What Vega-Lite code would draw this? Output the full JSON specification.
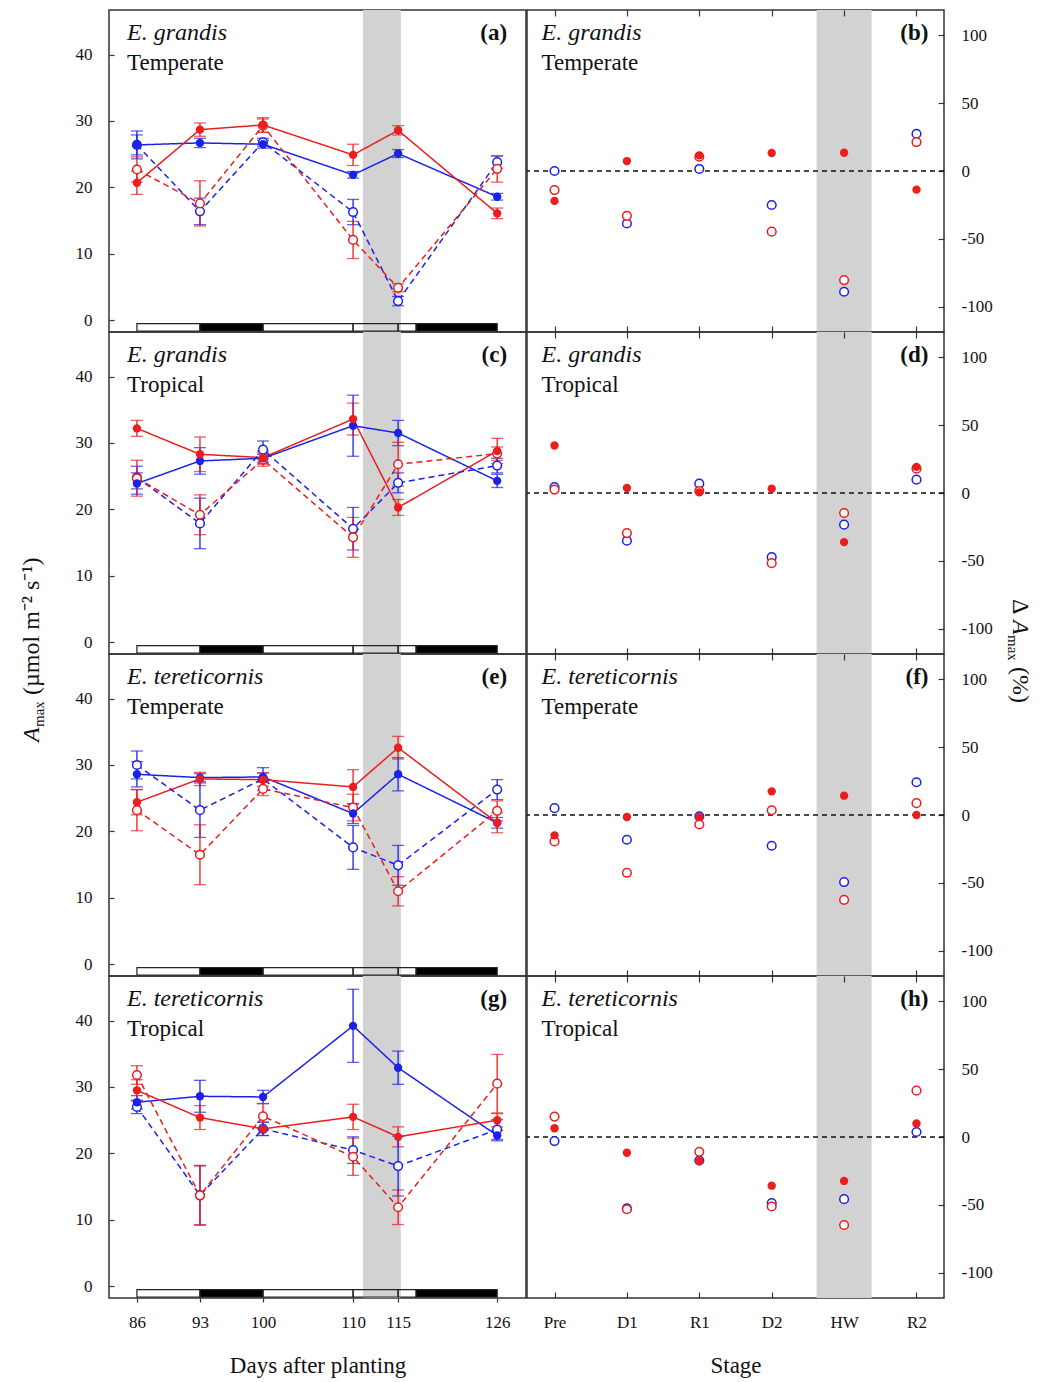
{
"$schema": "https://vega.github.io/schema/vega-lite/v6.json",
"background": "white",
"padding": {"left": 0, "top": 8, "right": 0, "bottom": 0},
"datasets": {
"amax": [
{"sp":"E. grandis","prov":"Temperate","temp":"Ambient","water":"Watered","day":86,"amax":26.4,"se":2.1},
{"sp":"E. grandis","prov":"Temperate","temp":"Ambient","water":"Watered","day":93,"amax":26.7,"se":0.7},
{"sp":"E. grandis","prov":"Temperate","temp":"Ambient","water":"Watered","day":100,"amax":26.5,"se":0.6},
{"sp":"E. grandis","prov":"Temperate","temp":"Ambient","water":"Watered","day":110,"amax":21.9,"se":0.5},
{"sp":"E. grandis","prov":"Temperate","temp":"Ambient","water":"Watered","day":115,"amax":25.1,"se":0.6},
{"sp":"E. grandis","prov":"Temperate","temp":"Ambient","water":"Watered","day":126,"amax":18.6,"se":0.5},
{"sp":"E. grandis","prov":"Temperate","temp":"Warmed","water":"Watered","day":86,"amax":20.7,"se":1.75},
{"sp":"E. grandis","prov":"Temperate","temp":"Warmed","water":"Watered","day":93,"amax":28.7,"se":1.0},
{"sp":"E. grandis","prov":"Temperate","temp":"Warmed","water":"Watered","day":100,"amax":29.4,"se":1.1},
{"sp":"E. grandis","prov":"Temperate","temp":"Warmed","water":"Watered","day":110,"amax":24.9,"se":1.6},
{"sp":"E. grandis","prov":"Temperate","temp":"Warmed","water":"Watered","day":115,"amax":28.6,"se":0.7},
{"sp":"E. grandis","prov":"Temperate","temp":"Warmed","water":"Watered","day":126,"amax":16.1,"se":0.8},
{"sp":"E. grandis","prov":"Temperate","temp":"Ambient","water":"Drought","day":86,"amax":26.4,"se":1.5},
{"sp":"E. grandis","prov":"Temperate","temp":"Ambient","water":"Drought","day":93,"amax":16.4,"se":2.0},
{"sp":"E. grandis","prov":"Temperate","temp":"Ambient","water":"Drought","day":100,"amax":26.8,"se":0.6},
{"sp":"E. grandis","prov":"Temperate","temp":"Ambient","water":"Drought","day":110,"amax":16.3,"se":1.9},
{"sp":"E. grandis","prov":"Temperate","temp":"Ambient","water":"Drought","day":115,"amax":2.9,"se":0.7},
{"sp":"E. grandis","prov":"Temperate","temp":"Ambient","water":"Drought","day":126,"amax":23.8,"se":0.9},
{"sp":"E. grandis","prov":"Temperate","temp":"Warmed","water":"Drought","day":86,"amax":22.7,"se":1.9},
{"sp":"E. grandis","prov":"Temperate","temp":"Warmed","water":"Drought","day":93,"amax":17.6,"se":3.4},
{"sp":"E. grandis","prov":"Temperate","temp":"Warmed","water":"Drought","day":100,"amax":29.3,"se":1.0},
{"sp":"E. grandis","prov":"Temperate","temp":"Warmed","water":"Drought","day":110,"amax":12.1,"se":2.8},
{"sp":"E. grandis","prov":"Temperate","temp":"Warmed","water":"Drought","day":115,"amax":4.9,"se":0.6},
{"sp":"E. grandis","prov":"Temperate","temp":"Warmed","water":"Drought","day":126,"amax":22.8,"se":2.0},
{"sp":"E. grandis","prov":"Tropical","temp":"Ambient","water":"Watered","day":86,"amax":23.9,"se":1.6},
{"sp":"E. grandis","prov":"Tropical","temp":"Ambient","water":"Watered","day":93,"amax":27.3,"se":2.0},
{"sp":"E. grandis","prov":"Tropical","temp":"Ambient","water":"Watered","day":100,"amax":27.7,"se":0.6},
{"sp":"E. grandis","prov":"Tropical","temp":"Ambient","water":"Watered","day":110,"amax":32.6,"se":4.6},
{"sp":"E. grandis","prov":"Tropical","temp":"Ambient","water":"Watered","day":115,"amax":31.5,"se":1.9},
{"sp":"E. grandis","prov":"Tropical","temp":"Ambient","water":"Watered","day":126,"amax":24.3,"se":1.0},
{"sp":"E. grandis","prov":"Tropical","temp":"Warmed","water":"Watered","day":86,"amax":32.2,"se":1.2},
{"sp":"E. grandis","prov":"Tropical","temp":"Warmed","water":"Watered","day":93,"amax":28.3,"se":2.6},
{"sp":"E. grandis","prov":"Tropical","temp":"Warmed","water":"Watered","day":100,"amax":27.8,"se":1.0},
{"sp":"E. grandis","prov":"Tropical","temp":"Warmed","water":"Watered","day":110,"amax":33.6,"se":2.4},
{"sp":"E. grandis","prov":"Tropical","temp":"Warmed","water":"Watered","day":115,"amax":20.3,"se":1.2},
{"sp":"E. grandis","prov":"Tropical","temp":"Warmed","water":"Watered","day":126,"amax":28.8,"se":1.9},
{"sp":"E. grandis","prov":"Tropical","temp":"Ambient","water":"Drought","day":86,"amax":24.8,"se":1.7},
{"sp":"E. grandis","prov":"Tropical","temp":"Ambient","water":"Drought","day":93,"amax":17.9,"se":3.8},
{"sp":"E. grandis","prov":"Tropical","temp":"Ambient","water":"Drought","day":100,"amax":29.0,"se":1.3},
{"sp":"E. grandis","prov":"Tropical","temp":"Ambient","water":"Drought","day":110,"amax":17.1,"se":3.2},
{"sp":"E. grandis","prov":"Tropical","temp":"Ambient","water":"Drought","day":115,"amax":24.0,"se":1.5},
{"sp":"E. grandis","prov":"Tropical","temp":"Ambient","water":"Drought","day":126,"amax":26.6,"se":1.1},
{"sp":"E. grandis","prov":"Tropical","temp":"Warmed","water":"Drought","day":86,"amax":24.7,"se":2.7},
{"sp":"E. grandis","prov":"Tropical","temp":"Warmed","water":"Drought","day":93,"amax":19.2,"se":3.0},
{"sp":"E. grandis","prov":"Tropical","temp":"Warmed","water":"Drought","day":100,"amax":27.5,"se":1.0},
{"sp":"E. grandis","prov":"Tropical","temp":"Warmed","water":"Drought","day":110,"amax":15.8,"se":3.0},
{"sp":"E. grandis","prov":"Tropical","temp":"Warmed","water":"Drought","day":115,"amax":26.8,"se":3.3},
{"sp":"E. grandis","prov":"Tropical","temp":"Warmed","water":"Drought","day":126,"amax":28.4,"se":1.0},
{"sp":"E. tereticornis","prov":"Temperate","temp":"Ambient","water":"Watered","day":86,"amax":28.6,"se":1.9},
{"sp":"E. tereticornis","prov":"Temperate","temp":"Ambient","water":"Watered","day":93,"amax":28.1,"se":0.6},
{"sp":"E. tereticornis","prov":"Temperate","temp":"Ambient","water":"Watered","day":100,"amax":28.2,"se":0.6},
{"sp":"E. tereticornis","prov":"Temperate","temp":"Ambient","water":"Watered","day":110,"amax":22.7,"se":1.5},
{"sp":"E. tereticornis","prov":"Temperate","temp":"Ambient","water":"Watered","day":115,"amax":28.6,"se":2.5},
{"sp":"E. tereticornis","prov":"Temperate","temp":"Ambient","water":"Watered","day":126,"amax":21.3,"se":0.8},
{"sp":"E. tereticornis","prov":"Temperate","temp":"Warmed","water":"Watered","day":86,"amax":24.4,"se":1.9},
{"sp":"E. tereticornis","prov":"Temperate","temp":"Warmed","water":"Watered","day":93,"amax":27.9,"se":1.0},
{"sp":"E. tereticornis","prov":"Temperate","temp":"Warmed","water":"Watered","day":100,"amax":27.8,"se":1.0},
{"sp":"E. tereticornis","prov":"Temperate","temp":"Warmed","water":"Watered","day":110,"amax":26.7,"se":2.6},
{"sp":"E. tereticornis","prov":"Temperate","temp":"Warmed","water":"Watered","day":115,"amax":32.6,"se":1.7},
{"sp":"E. tereticornis","prov":"Temperate","temp":"Warmed","water":"Watered","day":126,"amax":21.3,"se":1.5},
{"sp":"E. tereticornis","prov":"Temperate","temp":"Ambient","water":"Drought","day":86,"amax":30.0,"se":2.1},
{"sp":"E. tereticornis","prov":"Temperate","temp":"Ambient","water":"Drought","day":93,"amax":23.2,"se":4.1},
{"sp":"E. tereticornis","prov":"Temperate","temp":"Ambient","water":"Drought","day":100,"amax":27.9,"se":1.7},
{"sp":"E. tereticornis","prov":"Temperate","temp":"Ambient","water":"Drought","day":110,"amax":17.6,"se":3.3},
{"sp":"E. tereticornis","prov":"Temperate","temp":"Ambient","water":"Drought","day":115,"amax":14.9,"se":3.0},
{"sp":"E. tereticornis","prov":"Temperate","temp":"Ambient","water":"Drought","day":126,"amax":26.3,"se":1.5},
{"sp":"E. tereticornis","prov":"Temperate","temp":"Warmed","water":"Drought","day":86,"amax":23.2,"se":3.1},
{"sp":"E. tereticornis","prov":"Temperate","temp":"Warmed","water":"Drought","day":93,"amax":16.5,"se":4.5},
{"sp":"E. tereticornis","prov":"Temperate","temp":"Warmed","water":"Drought","day":100,"amax":26.4,"se":1.0},
{"sp":"E. tereticornis","prov":"Temperate","temp":"Warmed","water":"Drought","day":110,"amax":23.6,"se":2.0},
{"sp":"E. tereticornis","prov":"Temperate","temp":"Warmed","water":"Drought","day":115,"amax":11.0,"se":2.2},
{"sp":"E. tereticornis","prov":"Temperate","temp":"Warmed","water":"Drought","day":126,"amax":23.1,"se":1.5},
{"sp":"E. tereticornis","prov":"Tropical","temp":"Ambient","water":"Watered","day":86,"amax":27.7,"se":1.0},
{"sp":"E. tereticornis","prov":"Tropical","temp":"Ambient","water":"Watered","day":93,"amax":28.6,"se":2.4},
{"sp":"E. tereticornis","prov":"Tropical","temp":"Ambient","water":"Watered","day":100,"amax":28.5,"se":1.0},
{"sp":"E. tereticornis","prov":"Tropical","temp":"Ambient","water":"Watered","day":110,"amax":39.2,"se":5.5},
{"sp":"E. tereticornis","prov":"Tropical","temp":"Ambient","water":"Watered","day":115,"amax":32.9,"se":2.5},
{"sp":"E. tereticornis","prov":"Tropical","temp":"Ambient","water":"Watered","day":126,"amax":22.7,"se":0.8},
{"sp":"E. tereticornis","prov":"Tropical","temp":"Warmed","water":"Watered","day":86,"amax":29.5,"se":1.6},
{"sp":"E. tereticornis","prov":"Tropical","temp":"Warmed","water":"Watered","day":93,"amax":25.4,"se":1.8},
{"sp":"E. tereticornis","prov":"Tropical","temp":"Warmed","water":"Watered","day":100,"amax":23.7,"se":1.0},
{"sp":"E. tereticornis","prov":"Tropical","temp":"Warmed","water":"Watered","day":110,"amax":25.5,"se":1.9},
{"sp":"E. tereticornis","prov":"Tropical","temp":"Warmed","water":"Watered","day":115,"amax":22.5,"se":1.5},
{"sp":"E. tereticornis","prov":"Tropical","temp":"Warmed","water":"Watered","day":126,"amax":25.0,"se":1.0},
{"sp":"E. tereticornis","prov":"Tropical","temp":"Ambient","water":"Drought","day":86,"amax":27.0,"se":1.0},
{"sp":"E. tereticornis","prov":"Tropical","temp":"Ambient","water":"Drought","day":93,"amax":13.7,"se":4.5},
{"sp":"E. tereticornis","prov":"Tropical","temp":"Ambient","water":"Drought","day":100,"amax":23.7,"se":1.0},
{"sp":"E. tereticornis","prov":"Tropical","temp":"Ambient","water":"Drought","day":110,"amax":20.5,"se":2.0},
{"sp":"E. tereticornis","prov":"Tropical","temp":"Ambient","water":"Drought","day":115,"amax":18.1,"se":4.5},
{"sp":"E. tereticornis","prov":"Tropical","temp":"Ambient","water":"Drought","day":126,"amax":23.6,"se":1.5},
{"sp":"E. tereticornis","prov":"Tropical","temp":"Warmed","water":"Drought","day":86,"amax":31.8,"se":1.4},
{"sp":"E. tereticornis","prov":"Tropical","temp":"Warmed","water":"Drought","day":93,"amax":13.7,"se":4.4},
{"sp":"E. tereticornis","prov":"Tropical","temp":"Warmed","water":"Drought","day":100,"amax":25.6,"se":1.9},
{"sp":"E. tereticornis","prov":"Tropical","temp":"Warmed","water":"Drought","day":110,"amax":19.5,"se":2.8},
{"sp":"E. tereticornis","prov":"Tropical","temp":"Warmed","water":"Drought","day":115,"amax":11.9,"se":2.6},
{"sp":"E. tereticornis","prov":"Tropical","temp":"Warmed","water":"Drought","day":126,"amax":30.5,"se":4.4}
],
"delta": [
{"sp":"E. grandis","prov":"Temperate","temp":"Warmed","water":"Watered","stage":"Pre","delta":-22},
{"sp":"E. grandis","prov":"Temperate","temp":"Warmed","water":"Watered","stage":"D1","delta":7.3},
{"sp":"E. grandis","prov":"Temperate","temp":"Warmed","water":"Watered","stage":"R1","delta":11.5},
{"sp":"E. grandis","prov":"Temperate","temp":"Warmed","water":"Watered","stage":"D2","delta":13.2},
{"sp":"E. grandis","prov":"Temperate","temp":"Warmed","water":"Watered","stage":"HW","delta":13.4},
{"sp":"E. grandis","prov":"Temperate","temp":"Warmed","water":"Watered","stage":"R2","delta":-13.7},
{"sp":"E. grandis","prov":"Temperate","temp":"Ambient","water":"Drought","stage":"Pre","delta":0},
{"sp":"E. grandis","prov":"Temperate","temp":"Ambient","water":"Drought","stage":"D1","delta":-38.6},
{"sp":"E. grandis","prov":"Temperate","temp":"Ambient","water":"Drought","stage":"R1","delta":1.5},
{"sp":"E. grandis","prov":"Temperate","temp":"Ambient","water":"Drought","stage":"D2","delta":-25},
{"sp":"E. grandis","prov":"Temperate","temp":"Ambient","water":"Drought","stage":"HW","delta":-88.8},
{"sp":"E. grandis","prov":"Temperate","temp":"Ambient","water":"Drought","stage":"R2","delta":27.4},
{"sp":"E. grandis","prov":"Temperate","temp":"Warmed","water":"Drought","stage":"Pre","delta":-14},
{"sp":"E. grandis","prov":"Temperate","temp":"Warmed","water":"Drought","stage":"D1","delta":-33},
{"sp":"E. grandis","prov":"Temperate","temp":"Warmed","water":"Drought","stage":"R1","delta":10.5},
{"sp":"E. grandis","prov":"Temperate","temp":"Warmed","water":"Drought","stage":"D2","delta":-44.6},
{"sp":"E. grandis","prov":"Temperate","temp":"Warmed","water":"Drought","stage":"HW","delta":-80.2},
{"sp":"E. grandis","prov":"Temperate","temp":"Warmed","water":"Drought","stage":"R2","delta":21.3},
{"sp":"E. grandis","prov":"Tropical","temp":"Warmed","water":"Watered","stage":"Pre","delta":34.9},
{"sp":"E. grandis","prov":"Tropical","temp":"Warmed","water":"Watered","stage":"D1","delta":3.7},
{"sp":"E. grandis","prov":"Tropical","temp":"Warmed","water":"Watered","stage":"R1","delta":0.5},
{"sp":"E. grandis","prov":"Tropical","temp":"Warmed","water":"Watered","stage":"D2","delta":3.2},
{"sp":"E. grandis","prov":"Tropical","temp":"Warmed","water":"Watered","stage":"HW","delta":-36.1},
{"sp":"E. grandis","prov":"Tropical","temp":"Warmed","water":"Watered","stage":"R2","delta":19.2},
{"sp":"E. grandis","prov":"Tropical","temp":"Ambient","water":"Drought","stage":"Pre","delta":4.4},
{"sp":"E. grandis","prov":"Tropical","temp":"Ambient","water":"Drought","stage":"D1","delta":-35.1},
{"sp":"E. grandis","prov":"Tropical","temp":"Ambient","water":"Drought","stage":"R1","delta":6.9},
{"sp":"E. grandis","prov":"Tropical","temp":"Ambient","water":"Drought","stage":"D2","delta":-47.2},
{"sp":"E. grandis","prov":"Tropical","temp":"Ambient","water":"Drought","stage":"HW","delta":-23.3},
{"sp":"E. grandis","prov":"Tropical","temp":"Ambient","water":"Drought","stage":"R2","delta":9.8},
{"sp":"E. grandis","prov":"Tropical","temp":"Warmed","water":"Drought","stage":"Pre","delta":2.5},
{"sp":"E. grandis","prov":"Tropical","temp":"Warmed","water":"Drought","stage":"D1","delta":-29.5},
{"sp":"E. grandis","prov":"Tropical","temp":"Warmed","water":"Drought","stage":"R1","delta":1.5},
{"sp":"E. grandis","prov":"Tropical","temp":"Warmed","water":"Drought","stage":"D2","delta":-51.6},
{"sp":"E. grandis","prov":"Tropical","temp":"Warmed","water":"Drought","stage":"HW","delta":-14.7},
{"sp":"E. grandis","prov":"Tropical","temp":"Warmed","water":"Drought","stage":"R2","delta":17.9},
{"sp":"E. tereticornis","prov":"Temperate","temp":"Warmed","water":"Watered","stage":"Pre","delta":-15},
{"sp":"E. tereticornis","prov":"Temperate","temp":"Warmed","water":"Watered","stage":"D1","delta":-1.5},
{"sp":"E. tereticornis","prov":"Temperate","temp":"Warmed","water":"Watered","stage":"R1","delta":-1.5},
{"sp":"E. tereticornis","prov":"Temperate","temp":"Warmed","water":"Watered","stage":"D2","delta":17.4},
{"sp":"E. tereticornis","prov":"Temperate","temp":"Warmed","water":"Watered","stage":"HW","delta":14.2},
{"sp":"E. tereticornis","prov":"Temperate","temp":"Warmed","water":"Watered","stage":"R2","delta":0},
{"sp":"E. tereticornis","prov":"Temperate","temp":"Ambient","water":"Drought","stage":"Pre","delta":5},
{"sp":"E. tereticornis","prov":"Temperate","temp":"Ambient","water":"Drought","stage":"D1","delta":-18.2},
{"sp":"E. tereticornis","prov":"Temperate","temp":"Ambient","water":"Drought","stage":"R1","delta":-1},
{"sp":"E. tereticornis","prov":"Temperate","temp":"Ambient","water":"Drought","stage":"D2","delta":-22.6},
{"sp":"E. tereticornis","prov":"Temperate","temp":"Ambient","water":"Drought","stage":"HW","delta":-49.3},
{"sp":"E. tereticornis","prov":"Temperate","temp":"Ambient","water":"Drought","stage":"R2","delta":24.1},
{"sp":"E. tereticornis","prov":"Temperate","temp":"Warmed","water":"Drought","stage":"Pre","delta":-19.4},
{"sp":"E. tereticornis","prov":"Temperate","temp":"Warmed","water":"Drought","stage":"D1","delta":-42.5},
{"sp":"E. tereticornis","prov":"Temperate","temp":"Warmed","water":"Drought","stage":"R1","delta":-7},
{"sp":"E. tereticornis","prov":"Temperate","temp":"Warmed","water":"Drought","stage":"D2","delta":3.5},
{"sp":"E. tereticornis","prov":"Temperate","temp":"Warmed","water":"Drought","stage":"HW","delta":-62.4},
{"sp":"E. tereticornis","prov":"Temperate","temp":"Warmed","water":"Drought","stage":"R2","delta":8.7},
{"sp":"E. tereticornis","prov":"Tropical","temp":"Warmed","water":"Watered","stage":"Pre","delta":6.4},
{"sp":"E. tereticornis","prov":"Tropical","temp":"Warmed","water":"Watered","stage":"D1","delta":-11.6},
{"sp":"E. tereticornis","prov":"Tropical","temp":"Warmed","water":"Watered","stage":"R1","delta":-17.8},
{"sp":"E. tereticornis","prov":"Tropical","temp":"Warmed","water":"Watered","stage":"D2","delta":-35.8},
{"sp":"E. tereticornis","prov":"Tropical","temp":"Warmed","water":"Watered","stage":"HW","delta":-32.3},
{"sp":"E. tereticornis","prov":"Tropical","temp":"Warmed","water":"Watered","stage":"R2","delta":9.9},
{"sp":"E. tereticornis","prov":"Tropical","temp":"Ambient","water":"Drought","stage":"Pre","delta":-3},
{"sp":"E. tereticornis","prov":"Tropical","temp":"Ambient","water":"Drought","stage":"D1","delta":-52.5},
{"sp":"E. tereticornis","prov":"Tropical","temp":"Ambient","water":"Drought","stage":"R1","delta":-17.3},
{"sp":"E. tereticornis","prov":"Tropical","temp":"Ambient","water":"Drought","stage":"D2","delta":-48.6},
{"sp":"E. tereticornis","prov":"Tropical","temp":"Ambient","water":"Drought","stage":"HW","delta":-45.7},
{"sp":"E. tereticornis","prov":"Tropical","temp":"Ambient","water":"Drought","stage":"R2","delta":3.7},
{"sp":"E. tereticornis","prov":"Tropical","temp":"Warmed","water":"Drought","stage":"Pre","delta":15},
{"sp":"E. tereticornis","prov":"Tropical","temp":"Warmed","water":"Drought","stage":"D1","delta":-53.1},
{"sp":"E. tereticornis","prov":"Tropical","temp":"Warmed","water":"Drought","stage":"R1","delta":-10.9},
{"sp":"E. tereticornis","prov":"Tropical","temp":"Warmed","water":"Drought","stage":"D2","delta":-51.1},
{"sp":"E. tereticornis","prov":"Tropical","temp":"Warmed","water":"Drought","stage":"HW","delta":-64.7},
{"sp":"E. tereticornis","prov":"Tropical","temp":"Warmed","water":"Drought","stage":"R2","delta":34.1}
],
"labels": [
{"panel":"a","sp":"E. grandis","prov":"Temperate","letter":"(a)"},
{"panel":"b","sp":"E. grandis","prov":"Temperate","letter":"(b)"},
{"panel":"c","sp":"E. grandis","prov":"Tropical","letter":"(c)"},
{"panel":"d","sp":"E. grandis","prov":"Tropical","letter":"(d)"},
{"panel":"e","sp":"E. tereticornis","prov":"Temperate","letter":"(e)"},
{"panel":"f","sp":"E. tereticornis","prov":"Temperate","letter":"(f)"},
{"panel":"g","sp":"E. tereticornis","prov":"Tropical","letter":"(g)"},
{"panel":"h","sp":"E. tereticornis","prov":"Tropical","letter":"(h)"}
],
"phases": [
{"start":86,"end":93,"period":"watered"},
{"start":93,"end":100,"period":"drought"},
{"start":100,"end":110,"period":"watered"},
{"start":110,"end":115,"period":"watered"},
{"start":115,"end":117,"period":"watered"},
{"start":117,"end":126,"period":"drought"}
],
"hw": [{"start":111.1,"end":115.3}],
"hwStage": [{"stage":"HW"}],
"zero": [{"ref":0}],
"ytitle": [{"a":"A","sub":"max","rest":"(µmol m⁻² s⁻¹)","delta":"Δ","pct":"(%)"}]
},
"hconcat": [
{"hconcat": [
{"width":64,"height":1282,"view":{"stroke":null},"data":{"name":"ytitle"},
"layer":[
{"mark":{"type":"text","angle":270,"align":"left","baseline":"middle","fontSize":24,"fontStyle":"italic","dx":-91,"color":"#111"},"encoding":{"text":{"field":"a"}}},
{"mark":{"type":"text","angle":270,"align":"left","baseline":"middle","fontSize":15,"dx":-76,"dy":7,"color":"#111"},"encoding":{"text":{"field":"sub"}}},
{"mark":{"type":"text","angle":270,"align":"left","baseline":"middle","fontSize":24,"dx":-44,"color":"#111"},"encoding":{"text":{"field":"rest"}}}
]},
{"vconcat":[
{"width":417,"height":322,"resolve":{"axis":{"x":"independent","y":"independent"}},"layer":[
{"data":{"name":"hw"},"mark":{"type":"rect","color":"#d2d2d2"},"encoding":{"x":{"field":"start","type":"quantitative","scale":{"domain":[82.9,129.2],"nice":false,"zero":false},"axis":null},"x2":{"field":"end"}}},
{"data":{"name":"phases"},"mark":{"type":"rect","stroke":"#222","strokeWidth":1.2},"encoding":{"x":{"field":"start","type":"quantitative","axis":null},"x2":{"field":"end"},"y":{"datum":-0.5,"type":"quantitative","scale":{"domain":[-1.75,46.7],"nice":false,"zero":false},"axis":null},"y2":{"datum":-1.6},"fill":{"field":"period","type":"nominal","scale":{"domain":["watered","drought"],"range":["transparent","#000000"]},"legend":null}}},
{"data":{"name":"amax"},"transform":[{"filter":"datum.sp==='E. grandis' && datum.prov==='Temperate'"}],"mark":{"type":"line","strokeWidth":1.5},"encoding":{"x":{"field":"day","type":"quantitative","axis":null},"y":{"field":"amax","type":"quantitative","axis":{"tickCount":5,"title":null}},"color":{"field":"temp","type":"nominal","scale":{"domain":["Ambient","Warmed"],"range":["#1b22e8","#ec1d1d"]},"legend":null},"strokeDash":{"field":"water","type":"nominal","scale":{"domain":["Watered","Drought"],"range":[[1,0],[6,4]]},"legend":null}}},
{"data":{"name":"amax"},"transform":[{"filter":"datum.sp==='E. grandis' && datum.prov==='Temperate'"}],"mark":{"type":"errorbar","ticks":{"size":12},"thickness":1.3},"encoding":{"x":{"field":"day","type":"quantitative","axis":null},"y":{"field":"amax","type":"quantitative","axis":null},"yError":{"field":"se"},"color":{"field":"temp","type":"nominal","scale":{"domain":["Ambient","Warmed"],"range":["#1b22e8","#ec1d1d"]},"legend":null}}},
{"data":{"name":"amax"},"transform":[{"filter":"datum.sp==='E. grandis' && datum.prov==='Temperate'"},{"filter":"datum.water==='Drought'"}],"mark":{"type":"point","shape":"circle","size":75,"strokeWidth":1.5,"filled":true,"fill":"white","opacity":1},"encoding":{"x":{"field":"day","type":"quantitative","axis":null},"y":{"field":"amax","type":"quantitative","axis":null},"stroke":{"field":"temp","type":"nominal","scale":{"domain":["Ambient","Warmed"],"range":["#1b22e8","#ec1d1d"]},"legend":null}}},
{"data":{"name":"amax"},"transform":[{"filter":"datum.sp==='E. grandis' && datum.prov==='Temperate'"},{"filter":"datum.water==='Watered'"}],"mark":{"type":"point","shape":"circle","size":70,"filled":true,"opacity":1},"encoding":{"x":{"field":"day","type":"quantitative","axis":null},"y":{"field":"amax","type":"quantitative","axis":null},"color":{"field":"temp","type":"nominal","scale":{"domain":["Ambient","Warmed"],"range":["#1b22e8","#ec1d1d"]},"legend":null}}},
{"data":{"name":"labels"},"transform":[{"filter":"datum.panel==='a'"}],"mark":{"type":"text","align":"left","baseline":"alphabetic","fontStyle":"italic","fontSize":24,"color":"#111"},"encoding":{"x":{"datum":84.9,"type":"quantitative","axis":null},"y":{"datum":42.2,"type":"quantitative","axis":null},"text":{"field":"sp"}}},
{"data":{"name":"labels"},"transform":[{"filter":"datum.panel==='a'"}],"mark":{"type":"text","align":"left","baseline":"alphabetic","fontSize":23,"color":"#111"},"encoding":{"x":{"datum":84.9,"type":"quantitative","axis":null},"y":{"datum":37.7,"type":"quantitative","axis":null},"text":{"field":"prov"}}},
{"data":{"name":"labels"},"transform":[{"filter":"datum.panel==='a'"}],"mark":{"type":"text","align":"right","baseline":"alphabetic","fontSize":23,"fontWeight":"bold","color":"#111"},"encoding":{"x":{"datum":127.1,"type":"quantitative","axis":null},"y":{"datum":42.2,"type":"quantitative","axis":null},"text":{"field":"letter"}}}
]},
{"width":417,"height":322,"resolve":{"axis":{"x":"independent","y":"independent"}},"layer":[
{"data":{"name":"hw"},"mark":{"type":"rect","color":"#d2d2d2"},"encoding":{"x":{"field":"start","type":"quantitative","scale":{"domain":[82.9,129.2],"nice":false,"zero":false},"axis":null},"x2":{"field":"end"}}},
{"data":{"name":"phases"},"mark":{"type":"rect","stroke":"#222","strokeWidth":1.2},"encoding":{"x":{"field":"start","type":"quantitative","axis":null},"x2":{"field":"end"},"y":{"datum":-0.5,"type":"quantitative","scale":{"domain":[-1.75,46.7],"nice":false,"zero":false},"axis":null},"y2":{"datum":-1.6},"fill":{"field":"period","type":"nominal","scale":{"domain":["watered","drought"],"range":["transparent","#000000"]},"legend":null}}},
{"data":{"name":"amax"},"transform":[{"filter":"datum.sp==='E. grandis' && datum.prov==='Tropical'"}],"mark":{"type":"line","strokeWidth":1.5},"encoding":{"x":{"field":"day","type":"quantitative","axis":null},"y":{"field":"amax","type":"quantitative","axis":{"tickCount":5,"title":null}},"color":{"field":"temp","type":"nominal","scale":{"domain":["Ambient","Warmed"],"range":["#1b22e8","#ec1d1d"]},"legend":null},"strokeDash":{"field":"water","type":"nominal","scale":{"domain":["Watered","Drought"],"range":[[1,0],[6,4]]},"legend":null}}},
{"data":{"name":"amax"},"transform":[{"filter":"datum.sp==='E. grandis' && datum.prov==='Tropical'"}],"mark":{"type":"errorbar","ticks":{"size":12},"thickness":1.3},"encoding":{"x":{"field":"day","type":"quantitative","axis":null},"y":{"field":"amax","type":"quantitative","axis":null},"yError":{"field":"se"},"color":{"field":"temp","type":"nominal","scale":{"domain":["Ambient","Warmed"],"range":["#1b22e8","#ec1d1d"]},"legend":null}}},
{"data":{"name":"amax"},"transform":[{"filter":"datum.sp==='E. grandis' && datum.prov==='Tropical'"},{"filter":"datum.water==='Drought'"}],"mark":{"type":"point","shape":"circle","size":75,"strokeWidth":1.5,"filled":true,"fill":"white","opacity":1},"encoding":{"x":{"field":"day","type":"quantitative","axis":null},"y":{"field":"amax","type":"quantitative","axis":null},"stroke":{"field":"temp","type":"nominal","scale":{"domain":["Ambient","Warmed"],"range":["#1b22e8","#ec1d1d"]},"legend":null}}},
{"data":{"name":"amax"},"transform":[{"filter":"datum.sp==='E. grandis' && datum.prov==='Tropical'"},{"filter":"datum.water==='Watered'"}],"mark":{"type":"point","shape":"circle","size":70,"filled":true,"opacity":1},"encoding":{"x":{"field":"day","type":"quantitative","axis":null},"y":{"field":"amax","type":"quantitative","axis":null},"color":{"field":"temp","type":"nominal","scale":{"domain":["Ambient","Warmed"],"range":["#1b22e8","#ec1d1d"]},"legend":null}}},
{"data":{"name":"labels"},"transform":[{"filter":"datum.panel==='c'"}],"mark":{"type":"text","align":"left","baseline":"alphabetic","fontStyle":"italic","fontSize":24,"color":"#111"},"encoding":{"x":{"datum":84.9,"type":"quantitative","axis":null},"y":{"datum":42.2,"type":"quantitative","axis":null},"text":{"field":"sp"}}},
{"data":{"name":"labels"},"transform":[{"filter":"datum.panel==='c'"}],"mark":{"type":"text","align":"left","baseline":"alphabetic","fontSize":23,"color":"#111"},"encoding":{"x":{"datum":84.9,"type":"quantitative","axis":null},"y":{"datum":37.7,"type":"quantitative","axis":null},"text":{"field":"prov"}}},
{"data":{"name":"labels"},"transform":[{"filter":"datum.panel==='c'"}],"mark":{"type":"text","align":"right","baseline":"alphabetic","fontSize":23,"fontWeight":"bold","color":"#111"},"encoding":{"x":{"datum":127.1,"type":"quantitative","axis":null},"y":{"datum":42.2,"type":"quantitative","axis":null},"text":{"field":"letter"}}}
]},
{"width":417,"height":322,"resolve":{"axis":{"x":"independent","y":"independent"}},"layer":[
{"data":{"name":"hw"},"mark":{"type":"rect","color":"#d2d2d2"},"encoding":{"x":{"field":"start","type":"quantitative","scale":{"domain":[82.9,129.2],"nice":false,"zero":false},"axis":null},"x2":{"field":"end"}}},
{"data":{"name":"phases"},"mark":{"type":"rect","stroke":"#222","strokeWidth":1.2},"encoding":{"x":{"field":"start","type":"quantitative","axis":null},"x2":{"field":"end"},"y":{"datum":-0.5,"type":"quantitative","scale":{"domain":[-1.75,46.7],"nice":false,"zero":false},"axis":null},"y2":{"datum":-1.6},"fill":{"field":"period","type":"nominal","scale":{"domain":["watered","drought"],"range":["transparent","#000000"]},"legend":null}}},
{"data":{"name":"amax"},"transform":[{"filter":"datum.sp==='E. tereticornis' && datum.prov==='Temperate'"}],"mark":{"type":"line","strokeWidth":1.5},"encoding":{"x":{"field":"day","type":"quantitative","axis":null},"y":{"field":"amax","type":"quantitative","axis":{"tickCount":5,"title":null}},"color":{"field":"temp","type":"nominal","scale":{"domain":["Ambient","Warmed"],"range":["#1b22e8","#ec1d1d"]},"legend":null},"strokeDash":{"field":"water","type":"nominal","scale":{"domain":["Watered","Drought"],"range":[[1,0],[6,4]]},"legend":null}}},
{"data":{"name":"amax"},"transform":[{"filter":"datum.sp==='E. tereticornis' && datum.prov==='Temperate'"}],"mark":{"type":"errorbar","ticks":{"size":12},"thickness":1.3},"encoding":{"x":{"field":"day","type":"quantitative","axis":null},"y":{"field":"amax","type":"quantitative","axis":null},"yError":{"field":"se"},"color":{"field":"temp","type":"nominal","scale":{"domain":["Ambient","Warmed"],"range":["#1b22e8","#ec1d1d"]},"legend":null}}},
{"data":{"name":"amax"},"transform":[{"filter":"datum.sp==='E. tereticornis' && datum.prov==='Temperate'"},{"filter":"datum.water==='Drought'"}],"mark":{"type":"point","shape":"circle","size":75,"strokeWidth":1.5,"filled":true,"fill":"white","opacity":1},"encoding":{"x":{"field":"day","type":"quantitative","axis":null},"y":{"field":"amax","type":"quantitative","axis":null},"stroke":{"field":"temp","type":"nominal","scale":{"domain":["Ambient","Warmed"],"range":["#1b22e8","#ec1d1d"]},"legend":null}}},
{"data":{"name":"amax"},"transform":[{"filter":"datum.sp==='E. tereticornis' && datum.prov==='Temperate'"},{"filter":"datum.water==='Watered'"}],"mark":{"type":"point","shape":"circle","size":70,"filled":true,"opacity":1},"encoding":{"x":{"field":"day","type":"quantitative","axis":null},"y":{"field":"amax","type":"quantitative","axis":null},"color":{"field":"temp","type":"nominal","scale":{"domain":["Ambient","Warmed"],"range":["#1b22e8","#ec1d1d"]},"legend":null}}},
{"data":{"name":"labels"},"transform":[{"filter":"datum.panel==='e'"}],"mark":{"type":"text","align":"left","baseline":"alphabetic","fontStyle":"italic","fontSize":24,"color":"#111"},"encoding":{"x":{"datum":84.9,"type":"quantitative","axis":null},"y":{"datum":42.2,"type":"quantitative","axis":null},"text":{"field":"sp"}}},
{"data":{"name":"labels"},"transform":[{"filter":"datum.panel==='e'"}],"mark":{"type":"text","align":"left","baseline":"alphabetic","fontSize":23,"color":"#111"},"encoding":{"x":{"datum":84.9,"type":"quantitative","axis":null},"y":{"datum":37.7,"type":"quantitative","axis":null},"text":{"field":"prov"}}},
{"data":{"name":"labels"},"transform":[{"filter":"datum.panel==='e'"}],"mark":{"type":"text","align":"right","baseline":"alphabetic","fontSize":23,"fontWeight":"bold","color":"#111"},"encoding":{"x":{"datum":127.1,"type":"quantitative","axis":null},"y":{"datum":42.2,"type":"quantitative","axis":null},"text":{"field":"letter"}}}
]},
{"width":417,"height":322,"resolve":{"axis":{"x":"independent","y":"independent"}},"layer":[
{"data":{"name":"hw"},"mark":{"type":"rect","color":"#d2d2d2"},"encoding":{"x":{"field":"start","type":"quantitative","scale":{"domain":[82.9,129.2],"nice":false,"zero":false},"axis":{"orient":"bottom","values":[86,93,100,110,115,126],"title":"Days after planting","tickSize":4,"labelPadding":12,"titlePadding":24}},"x2":{"field":"end"}}},
{"data":{"name":"phases"},"mark":{"type":"rect","stroke":"#222","strokeWidth":1.2},"encoding":{"x":{"field":"start","type":"quantitative","axis":null},"x2":{"field":"end"},"y":{"datum":-0.5,"type":"quantitative","scale":{"domain":[-1.75,46.7],"nice":false,"zero":false},"axis":null},"y2":{"datum":-1.6},"fill":{"field":"period","type":"nominal","scale":{"domain":["watered","drought"],"range":["transparent","#000000"]},"legend":null}}},
{"data":{"name":"amax"},"transform":[{"filter":"datum.sp==='E. tereticornis' && datum.prov==='Tropical'"}],"mark":{"type":"line","strokeWidth":1.5},"encoding":{"x":{"field":"day","type":"quantitative","axis":null},"y":{"field":"amax","type":"quantitative","axis":{"tickCount":5,"title":null}},"color":{"field":"temp","type":"nominal","scale":{"domain":["Ambient","Warmed"],"range":["#1b22e8","#ec1d1d"]},"legend":null},"strokeDash":{"field":"water","type":"nominal","scale":{"domain":["Watered","Drought"],"range":[[1,0],[6,4]]},"legend":null}}},
{"data":{"name":"amax"},"transform":[{"filter":"datum.sp==='E. tereticornis' && datum.prov==='Tropical'"}],"mark":{"type":"errorbar","ticks":{"size":12},"thickness":1.3},"encoding":{"x":{"field":"day","type":"quantitative","axis":null},"y":{"field":"amax","type":"quantitative","axis":null},"yError":{"field":"se"},"color":{"field":"temp","type":"nominal","scale":{"domain":["Ambient","Warmed"],"range":["#1b22e8","#ec1d1d"]},"legend":null}}},
{"data":{"name":"amax"},"transform":[{"filter":"datum.sp==='E. tereticornis' && datum.prov==='Tropical'"},{"filter":"datum.water==='Drought'"}],"mark":{"type":"point","shape":"circle","size":75,"strokeWidth":1.5,"filled":true,"fill":"white","opacity":1},"encoding":{"x":{"field":"day","type":"quantitative","axis":null},"y":{"field":"amax","type":"quantitative","axis":null},"stroke":{"field":"temp","type":"nominal","scale":{"domain":["Ambient","Warmed"],"range":["#1b22e8","#ec1d1d"]},"legend":null}}},
{"data":{"name":"amax"},"transform":[{"filter":"datum.sp==='E. tereticornis' && datum.prov==='Tropical'"},{"filter":"datum.water==='Watered'"}],"mark":{"type":"point","shape":"circle","size":70,"filled":true,"opacity":1},"encoding":{"x":{"field":"day","type":"quantitative","axis":null},"y":{"field":"amax","type":"quantitative","axis":null},"color":{"field":"temp","type":"nominal","scale":{"domain":["Ambient","Warmed"],"range":["#1b22e8","#ec1d1d"]},"legend":null}}},
{"data":{"name":"labels"},"transform":[{"filter":"datum.panel==='g'"}],"mark":{"type":"text","align":"left","baseline":"alphabetic","fontStyle":"italic","fontSize":24,"color":"#111"},"encoding":{"x":{"datum":84.9,"type":"quantitative","axis":null},"y":{"datum":42.2,"type":"quantitative","axis":null},"text":{"field":"sp"}}},
{"data":{"name":"labels"},"transform":[{"filter":"datum.panel==='g'"}],"mark":{"type":"text","align":"left","baseline":"alphabetic","fontSize":23,"color":"#111"},"encoding":{"x":{"datum":84.9,"type":"quantitative","axis":null},"y":{"datum":37.7,"type":"quantitative","axis":null},"text":{"field":"prov"}}},
{"data":{"name":"labels"},"transform":[{"filter":"datum.panel==='g'"}],"mark":{"type":"text","align":"right","baseline":"alphabetic","fontSize":23,"fontWeight":"bold","color":"#111"},"encoding":{"x":{"datum":127.1,"type":"quantitative","axis":null},"y":{"datum":42.2,"type":"quantitative","axis":null},"text":{"field":"letter"}}}
]}
],"spacing":0,"bounds":"flush"}
],"spacing":10},
{"hconcat": [
{"vconcat":[
{"width":417,"height":322,"resolve":{"axis":{"x":"independent","y":"independent"}},"layer":[
{"data":{"name":"hwStage"},"mark":{"type":"rect","color":"#d2d2d2","width":55},"encoding":{"x":{"field":"stage","type":"nominal","scale":{"type":"point","domain":["Pre","D1","R1","D2","HW","R2"],"padding":0.38},"axis":{"orient":"top","labels":false,"tickSize":-6,"title":null}}}},
{"data":{"name":"zero"},"mark":{"type":"rule","strokeDash":[5,4],"color":"#111","strokeWidth":1.5},"encoding":{"y":{"field":"ref","type":"quantitative","scale":{"domain":[-118.4,118.4],"nice":false,"zero":false},"axis":null}}},
{"data":{"name":"delta"},"transform":[{"filter":"datum.sp==='E. grandis' && datum.prov==='Temperate'"},{"filter":"datum.water==='Drought'"}],"mark":{"type":"point","shape":"circle","size":75,"strokeWidth":1.5,"filled":true,"fill":"white","opacity":1},"encoding":{"x":{"field":"stage","type":"nominal","axis":null},"y":{"field":"delta","type":"quantitative","axis":null},"stroke":{"field":"temp","type":"nominal","scale":{"domain":["Ambient","Warmed"],"range":["#1b22e8","#ec1d1d"]},"legend":null}}},
{"data":{"name":"delta"},"transform":[{"filter":"datum.sp==='E. grandis' && datum.prov==='Temperate'"},{"filter":"datum.water==='Watered'"}],"mark":{"type":"point","shape":"circle","size":70,"filled":true,"opacity":1},"encoding":{"x":{"field":"stage","type":"nominal","axis":{"orient":"bottom","labels":false,"tickSize":-6,"title":null}},"y":{"field":"delta","type":"quantitative","axis":{"orient":"right","tickCount":5,"title":null}},"color":{"field":"temp","type":"nominal","scale":{"domain":["Ambient","Warmed"],"range":["#1b22e8","#ec1d1d"]},"legend":null}}},
{"data":{"name":"labels"},"transform":[{"filter":"datum.panel==='b'"}],"mark":{"type":"text","align":"left","baseline":"alphabetic","fontStyle":"italic","fontSize":24,"color":"#111","dx":-13},"encoding":{"x":{"datum":"Pre","type":"nominal","axis":null},"y":{"datum":96.3,"type":"quantitative","axis":null},"text":{"field":"sp"}}},
{"data":{"name":"labels"},"transform":[{"filter":"datum.panel==='b'"}],"mark":{"type":"text","align":"left","baseline":"alphabetic","fontSize":23,"color":"#111","dx":-13},"encoding":{"x":{"datum":"Pre","type":"nominal","axis":null},"y":{"datum":74.3,"type":"quantitative","axis":null},"text":{"field":"prov"}}},
{"data":{"name":"labels"},"transform":[{"filter":"datum.panel==='b'"}],"mark":{"type":"text","align":"right","baseline":"alphabetic","fontSize":23,"fontWeight":"bold","color":"#111","dx":12},"encoding":{"x":{"datum":"R2","type":"nominal","axis":null},"y":{"datum":96.3,"type":"quantitative","axis":null},"text":{"field":"letter"}}}
]},
{"width":417,"height":322,"resolve":{"axis":{"x":"independent","y":"independent"}},"layer":[
{"data":{"name":"hwStage"},"mark":{"type":"rect","color":"#d2d2d2","width":55},"encoding":{"x":{"field":"stage","type":"nominal","scale":{"type":"point","domain":["Pre","D1","R1","D2","HW","R2"],"padding":0.38},"axis":{"orient":"top","labels":false,"tickSize":-6,"title":null}}}},
{"data":{"name":"zero"},"mark":{"type":"rule","strokeDash":[5,4],"color":"#111","strokeWidth":1.5},"encoding":{"y":{"field":"ref","type":"quantitative","scale":{"domain":[-118.4,118.4],"nice":false,"zero":false},"axis":null}}},
{"data":{"name":"delta"},"transform":[{"filter":"datum.sp==='E. grandis' && datum.prov==='Tropical'"},{"filter":"datum.water==='Drought'"}],"mark":{"type":"point","shape":"circle","size":75,"strokeWidth":1.5,"filled":true,"fill":"white","opacity":1},"encoding":{"x":{"field":"stage","type":"nominal","axis":null},"y":{"field":"delta","type":"quantitative","axis":null},"stroke":{"field":"temp","type":"nominal","scale":{"domain":["Ambient","Warmed"],"range":["#1b22e8","#ec1d1d"]},"legend":null}}},
{"data":{"name":"delta"},"transform":[{"filter":"datum.sp==='E. grandis' && datum.prov==='Tropical'"},{"filter":"datum.water==='Watered'"}],"mark":{"type":"point","shape":"circle","size":70,"filled":true,"opacity":1},"encoding":{"x":{"field":"stage","type":"nominal","axis":{"orient":"bottom","labels":false,"tickSize":-6,"title":null}},"y":{"field":"delta","type":"quantitative","axis":{"orient":"right","tickCount":5,"title":null}},"color":{"field":"temp","type":"nominal","scale":{"domain":["Ambient","Warmed"],"range":["#1b22e8","#ec1d1d"]},"legend":null}}},
{"data":{"name":"labels"},"transform":[{"filter":"datum.panel==='d'"}],"mark":{"type":"text","align":"left","baseline":"alphabetic","fontStyle":"italic","fontSize":24,"color":"#111","dx":-13},"encoding":{"x":{"datum":"Pre","type":"nominal","axis":null},"y":{"datum":96.3,"type":"quantitative","axis":null},"text":{"field":"sp"}}},
{"data":{"name":"labels"},"transform":[{"filter":"datum.panel==='d'"}],"mark":{"type":"text","align":"left","baseline":"alphabetic","fontSize":23,"color":"#111","dx":-13},"encoding":{"x":{"datum":"Pre","type":"nominal","axis":null},"y":{"datum":74.3,"type":"quantitative","axis":null},"text":{"field":"prov"}}},
{"data":{"name":"labels"},"transform":[{"filter":"datum.panel==='d'"}],"mark":{"type":"text","align":"right","baseline":"alphabetic","fontSize":23,"fontWeight":"bold","color":"#111","dx":12},"encoding":{"x":{"datum":"R2","type":"nominal","axis":null},"y":{"datum":96.3,"type":"quantitative","axis":null},"text":{"field":"letter"}}}
]},
{"width":417,"height":322,"resolve":{"axis":{"x":"independent","y":"independent"}},"layer":[
{"data":{"name":"hwStage"},"mark":{"type":"rect","color":"#d2d2d2","width":55},"encoding":{"x":{"field":"stage","type":"nominal","scale":{"type":"point","domain":["Pre","D1","R1","D2","HW","R2"],"padding":0.38},"axis":{"orient":"top","labels":false,"tickSize":-6,"title":null}}}},
{"data":{"name":"zero"},"mark":{"type":"rule","strokeDash":[5,4],"color":"#111","strokeWidth":1.5},"encoding":{"y":{"field":"ref","type":"quantitative","scale":{"domain":[-118.4,118.4],"nice":false,"zero":false},"axis":null}}},
{"data":{"name":"delta"},"transform":[{"filter":"datum.sp==='E. tereticornis' && datum.prov==='Temperate'"},{"filter":"datum.water==='Drought'"}],"mark":{"type":"point","shape":"circle","size":75,"strokeWidth":1.5,"filled":true,"fill":"white","opacity":1},"encoding":{"x":{"field":"stage","type":"nominal","axis":null},"y":{"field":"delta","type":"quantitative","axis":null},"stroke":{"field":"temp","type":"nominal","scale":{"domain":["Ambient","Warmed"],"range":["#1b22e8","#ec1d1d"]},"legend":null}}},
{"data":{"name":"delta"},"transform":[{"filter":"datum.sp==='E. tereticornis' && datum.prov==='Temperate'"},{"filter":"datum.water==='Watered'"}],"mark":{"type":"point","shape":"circle","size":70,"filled":true,"opacity":1},"encoding":{"x":{"field":"stage","type":"nominal","axis":{"orient":"bottom","labels":false,"tickSize":-6,"title":null}},"y":{"field":"delta","type":"quantitative","axis":{"orient":"right","tickCount":5,"title":null}},"color":{"field":"temp","type":"nominal","scale":{"domain":["Ambient","Warmed"],"range":["#1b22e8","#ec1d1d"]},"legend":null}}},
{"data":{"name":"labels"},"transform":[{"filter":"datum.panel==='f'"}],"mark":{"type":"text","align":"left","baseline":"alphabetic","fontStyle":"italic","fontSize":24,"color":"#111","dx":-13},"encoding":{"x":{"datum":"Pre","type":"nominal","axis":null},"y":{"datum":96.3,"type":"quantitative","axis":null},"text":{"field":"sp"}}},
{"data":{"name":"labels"},"transform":[{"filter":"datum.panel==='f'"}],"mark":{"type":"text","align":"left","baseline":"alphabetic","fontSize":23,"color":"#111","dx":-13},"encoding":{"x":{"datum":"Pre","type":"nominal","axis":null},"y":{"datum":74.3,"type":"quantitative","axis":null},"text":{"field":"prov"}}},
{"data":{"name":"labels"},"transform":[{"filter":"datum.panel==='f'"}],"mark":{"type":"text","align":"right","baseline":"alphabetic","fontSize":23,"fontWeight":"bold","color":"#111","dx":12},"encoding":{"x":{"datum":"R2","type":"nominal","axis":null},"y":{"datum":96.3,"type":"quantitative","axis":null},"text":{"field":"letter"}}}
]},
{"width":417,"height":322,"resolve":{"axis":{"x":"independent","y":"independent"}},"layer":[
{"data":{"name":"hwStage"},"mark":{"type":"rect","color":"#d2d2d2","width":55},"encoding":{"x":{"field":"stage","type":"nominal","scale":{"type":"point","domain":["Pre","D1","R1","D2","HW","R2"],"padding":0.38},"axis":{"orient":"top","labels":false,"tickSize":-6,"title":null}}}},
{"data":{"name":"zero"},"mark":{"type":"rule","strokeDash":[5,4],"color":"#111","strokeWidth":1.5},"encoding":{"y":{"field":"ref","type":"quantitative","scale":{"domain":[-118.4,118.4],"nice":false,"zero":false},"axis":null}}},
{"data":{"name":"delta"},"transform":[{"filter":"datum.sp==='E. tereticornis' && datum.prov==='Tropical'"},{"filter":"datum.water==='Drought'"}],"mark":{"type":"point","shape":"circle","size":75,"strokeWidth":1.5,"filled":true,"fill":"white","opacity":1},"encoding":{"x":{"field":"stage","type":"nominal","axis":null},"y":{"field":"delta","type":"quantitative","axis":null},"stroke":{"field":"temp","type":"nominal","scale":{"domain":["Ambient","Warmed"],"range":["#1b22e8","#ec1d1d"]},"legend":null}}},
{"data":{"name":"delta"},"transform":[{"filter":"datum.sp==='E. tereticornis' && datum.prov==='Tropical'"},{"filter":"datum.water==='Watered'"}],"mark":{"type":"point","shape":"circle","size":70,"filled":true,"opacity":1},"encoding":{"x":{"field":"stage","type":"nominal","axis":{"orient":"bottom","tickSize":-6,"labelPadding":22,"labelAngle":0,"title":"Stage","titlePadding":24}},"y":{"field":"delta","type":"quantitative","axis":{"orient":"right","tickCount":5,"title":null}},"color":{"field":"temp","type":"nominal","scale":{"domain":["Ambient","Warmed"],"range":["#1b22e8","#ec1d1d"]},"legend":null}}},
{"data":{"name":"labels"},"transform":[{"filter":"datum.panel==='h'"}],"mark":{"type":"text","align":"left","baseline":"alphabetic","fontStyle":"italic","fontSize":24,"color":"#111","dx":-13},"encoding":{"x":{"datum":"Pre","type":"nominal","axis":null},"y":{"datum":96.3,"type":"quantitative","axis":null},"text":{"field":"sp"}}},
{"data":{"name":"labels"},"transform":[{"filter":"datum.panel==='h'"}],"mark":{"type":"text","align":"left","baseline":"alphabetic","fontSize":23,"color":"#111","dx":-13},"encoding":{"x":{"datum":"Pre","type":"nominal","axis":null},"y":{"datum":74.3,"type":"quantitative","axis":null},"text":{"field":"prov"}}},
{"data":{"name":"labels"},"transform":[{"filter":"datum.panel==='h'"}],"mark":{"type":"text","align":"right","baseline":"alphabetic","fontSize":23,"fontWeight":"bold","color":"#111","dx":12},"encoding":{"x":{"datum":"R2","type":"nominal","axis":null},"y":{"datum":96.3,"type":"quantitative","axis":null},"text":{"field":"letter"}}}
]}
],"spacing":0,"bounds":"flush"},
{"width":54,"height":1282,"view":{"stroke":null},"data":{"name":"ytitle"},
"layer":[
{"mark":{"type":"text","angle":90,"align":"left","baseline":"middle","fontSize":24,"dx":-52,"color":"#111"},"encoding":{"text":{"field":"delta"}}},
{"mark":{"type":"text","angle":90,"align":"left","baseline":"middle","fontSize":24,"fontStyle":"italic","dx":-31,"color":"#111"},"encoding":{"text":{"field":"a"}}},
{"mark":{"type":"text","angle":90,"align":"left","baseline":"middle","fontSize":15,"dx":-16,"dy":7,"color":"#111"},"encoding":{"text":{"field":"sub"}}},
{"mark":{"type":"text","angle":90,"align":"left","baseline":"middle","fontSize":24,"dx":16,"color":"#111"},"encoding":{"text":{"field":"pct"}}}
]}
],"spacing":0}
],
"spacing": -2,
"config": {
"font": "Liberation Serif",
"view": {"stroke": "#333", "strokeWidth": 1.5},
"axis": {"domain": false, "grid": false, "labelFontSize": 17, "labelColor": "#111", "tickColor": "#333", "tickWidth": 1.2, "titleFontSize": 23, "titleFontWeight": "normal", "titleColor": "#111", "labelFlush": false, "labelAngle": 0},
"axisLeft": {"tickSize": -5, "labelPadding": 22},
"axisRight": {"tickSize": -6, "labelPadding": 23, "labelExpr": "replace(datum.label, '\u2212', '-')"}
}
}
